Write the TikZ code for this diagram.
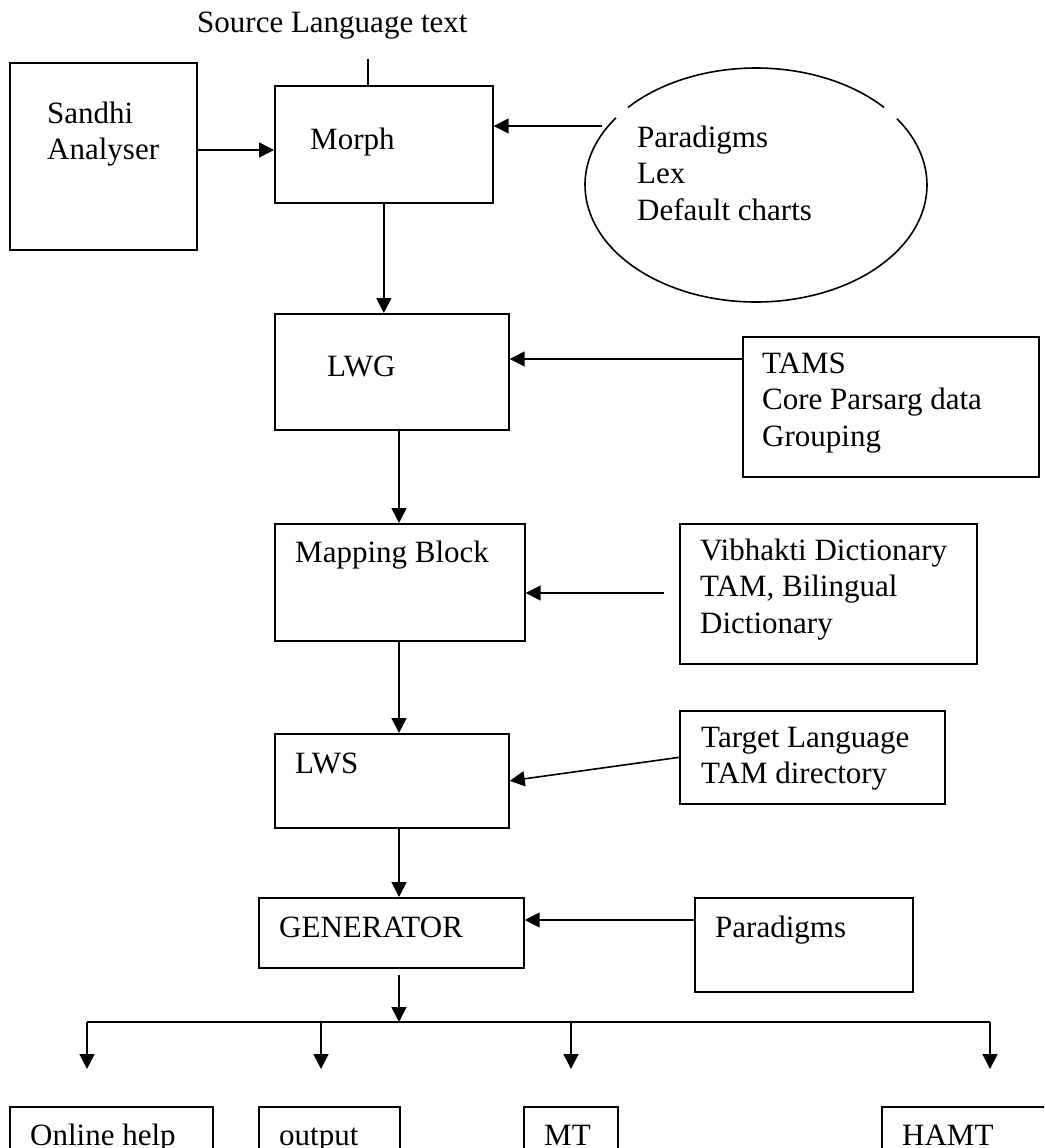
\documentclass[tikz,border=0pt]{standalone}
\usepackage{fontspec}
\setmainfont{Liberation Serif}
\usetikzlibrary{arrows.meta,shapes.geometric}

% a plain rectangular block given by its corners (x1,y1) and (x2,y2)
\newcommand\blockbox[5]{%
  \node[box, minimum width=#4-#2, minimum height=#5-#3] (#1) at (#2,#3) {};}

\begin{document}
\begin{tikzpicture}[x=1pt,y=-1pt,
  box/.style={draw, line width=1.7pt, rectangle, inner sep=0pt, anchor=north west},
  txt/.style={inner sep=0pt, font=\fontsize{31}{36.7}\selectfont, align=left},
  plainline/.style={line width=1.6pt},
  arr/.style={line width=1.6pt, -{Triangle[length=15pt,width=15pt]}},
]
\useasboundingbox (0,0) rectangle (1044,1148);
\clip (0,0) rectangle (1044,1148);

% blocks
\blockbox{sandhi}{9}{62}{196}{249}
\blockbox{morph}{274}{85}{492}{202}
\blockbox{lwg}{274}{313}{508}{429}
\blockbox{tams}{742}{336}{1038}{476}
\blockbox{mapping}{274}{523}{524}{640}
\blockbox{vibh}{679}{523}{976}{663}
\blockbox{lws}{274}{733}{508}{827}
\blockbox{target}{679}{710}{944}{803}
\blockbox{gen}{258}{897}{523}{967}
\blockbox{para}{694}{897}{912}{991}
\blockbox{online}{9}{1106}{212}{1190}
\blockbox{output}{258}{1106}{399}{1190}
\blockbox{mt}{523}{1106}{617}{1190}
\blockbox{hamt}{881}{1106}{1064}{1190}

% the lexical data store
\node[ellipse, minimum width=342, minimum height=234, inner sep=0pt] (lexdb) at (756,185) {};
\draw[plainline] (lexdb.center) ++(41.5:171pt and 117pt)
  arc[start angle=41.5, end angle=138.5, x radius=171pt, y radius=117pt];
\draw[plainline] (lexdb.center) ++(145:171pt and 117pt)
  arc[start angle=145, end angle=394.5, x radius=171pt, y radius=117pt];

% texts
\node[txt, anchor=base west] (srctxt) at (197,33) {Source Language text};
\node[txt, anchor=north west] (sandhitxt) at (47,123-25.7) {\strut Sandhi\\\strut Analyser};
\node[txt, anchor=base west] (morphtxt) at (310,149) {Morph};
\node[txt, anchor=north west] (lextxt) at (637,147-25.7) {\strut Paradigms\\\strut Lex\\\strut Default charts};
\node[txt, anchor=base west] (lwgtxt) at (327,376) {LWG};
\node[txt, anchor=north west] (tamstxt) at (762,373-25.7) {\strut TAMS\\\strut Core Parsarg data\\\strut Grouping};
\node[txt, anchor=base west] (maptxt) at (295,562) {Mapping Block};
\node[txt, anchor=north west] (vibtxt) at (700,560-25.7) {\strut Vibhakti Dictionary\\\strut TAM, Bilingual\\\strut Dictionary};
\node[txt, anchor=base west] (lwstxt) at (295,773) {LWS};
\node[txt, anchor=north west] (targettxt) at (701,747-25.7) {\strut Target Language\\\strut TAM directory};
\node[txt, anchor=base west] (gentxt) at (279,937) {GENERATOR};
\node[txt, anchor=base west] (paratxt) at (715,937) {Paradigms};
\node[txt, anchor=base west] (onlinetxt) at (30,1145) {Online help};
\node[txt, anchor=base west] (outputtxt) at (279,1145) {output};
\node[txt, anchor=base west] (mttxt) at (544,1145) {MT};
\node[txt, anchor=base west] (hamttxt) at (902,1145) {HAMT};

% connectors
\coordinate (srcfoot) at (368,59);
\draw[plainline] (srcfoot) -- (srcfoot |- morph.north);
\draw[arr] (sandhi.east |- 0,150) -- (morph.west |- 0,150);
\coordinate (lexout) at (602,126);
\draw[arr] (lexout) -- (lexout -| morph.east);
\draw[arr] (morph.south) -- (morph.south |- lwg.north);
\draw[arr] (tams.west |- 0,359) -- (lwg.east |- 0,359);
\coordinate (spine) at (399,0);
\draw[arr] (lwg.south -| spine) -- (mapping.north -| spine);
\coordinate (vibout) at (664,593);
\draw[arr] (vibout) -- (vibout -| mapping.east);
\draw[arr] (mapping.south -| spine) -- (lws.north -| spine);
\draw[arr] (target.west) -- (lws.east);
\draw[arr] (lws.south -| spine) -- (gen.north -| spine);
\draw[arr] (para.west |- 0,920) -- (gen.east |- 0,920);

% distribution bus below the generator
\coordinate (bustop) at (399,975);
\coordinate (busmid) at (399,1022);
\coordinate (busl) at (87,1022);
\coordinate (busr) at (990,1022);
\draw[arr] (bustop) -- (busmid);
\draw[plainline] (busl) -- (busr);
\foreach \bx/\bn in {87/a,321/b,571/c,990/d}{
  \coordinate (drop\bn) at (\bx,1022);
  \coordinate (tip\bn) at (\bx,1069);
  \draw[arr] (drop\bn) -- (tip\bn);
}
\end{tikzpicture}
\end{document}
